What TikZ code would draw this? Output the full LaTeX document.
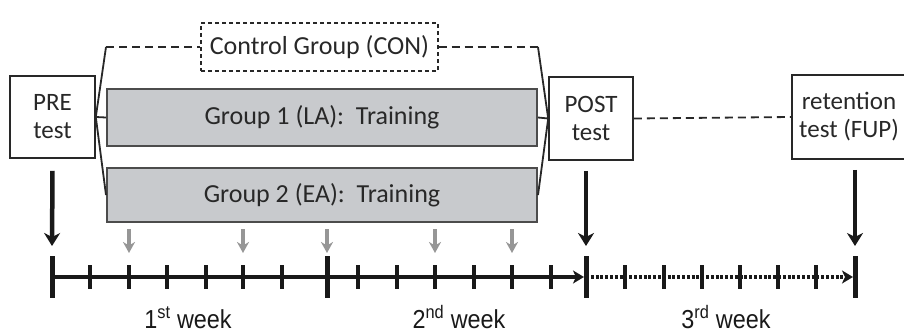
\documentclass[tikz,border=0pt]{standalone}
\usepackage{fontspec}
\setmainfont{Carlito}
\newfontfamily\weekfont[FakeStretch=0.9]{Liberation Sans}
\usetikzlibrary{arrows.meta}
\definecolor{boxgray}{RGB}{200,202,205}
\definecolor{textgray}{RGB}{40,40,40}
\definecolor{arrowgray}{RGB}{150,150,150}

\tikzset{
  testbox/.style = {draw=textgray, line width=1.6pt, align=center, inner sep=0pt,
                    text=textgray, font=\fontsize{25}{28}\selectfont},
  groupbox/.style = {draw=black!70, line width=2pt, fill=boxgray, inner sep=0pt,
                     minimum width=430pt, text=textgray, font=\fontsize{26}{30}\selectfont},
  ctrlbox/.style = {draw=textgray, line width=1.4pt, dash pattern=on 4pt off 3pt,
                    inner sep=0pt, minimum width=237pt, minimum height=48pt,
                    text=textgray, font=\fontsize{26}{30}\selectfont},
  fan/.style = {draw=textgray, line width=1.8pt},
  ctrlline/.style = {draw=textgray, line width=1.8pt, dash pattern=on 8pt off 5pt},
  testarrow/.style = {draw=black!90, line width=4.5pt,
                      -{Stealth[length=13pt, width=16pt, inset=4pt]}},
  trainarrow/.style = {draw=arrowgray, line width=3.2pt,
                       -{Stealth[length=11pt, width=12pt, inset=3.5pt]}},
  weeklabel/.style = {anchor=base, inner sep=0pt, font=\weekfont\fontsize{26}{30}\selectfont,
                      text=black!90},
}

\begin{document}
\begin{tikzpicture}[x=1pt, y=-1pt]
	\useasboundingbox (0,0) rectangle (904,332);

%test boxes
	\node[testbox, minimum width=85pt, minimum height=82pt] (pre) at (52.5,117) {PRE\\test};
	\node[testbox, minimum width=84pt, minimum height=83pt] (post) at (591,118.5) {POST\\test};
	\node[testbox, minimum width=114pt, minimum height=84pt] (ret) at (849,117) {retention\\test (FUP)};

%groups
	\node[ctrlbox] (con) at (319.5,47) {Control Group (CON)};
	\node[groupbox, minimum height=57pt] (gla) at (322,117.5) {Group 1 (LA):\ \ Training};
	\node[groupbox, minimum height=54pt] (gea) at (322,195) {Group 2 (EA):\ \ Training};

	\coordinate (cl) at (gla.west |- con.west);
	\coordinate (cr) at (gla.east |- con.east);

%fan in and out
	\draw[fan] (cl) -- (pre.east) -- (gla.west);
	\draw[fan] (pre.east) -- (gea.west);
	\draw[fan] (cr) -- (post.west) -- (gla.east);
	\draw[fan] (post.west) -- (gea.east);
	\draw[ctrlline] (cl) -- (con.west);
	\draw[ctrlline] (con.east) -- (cr);
	\draw[ctrlline] (post.east) -- (ret.west);

%time line
	\coordinate (w0) at (52,277);
	\coordinate (w1) at (327,277);
	\coordinate (w2) at (586,277);
	\coordinate (w3) at (855,277);

	\draw[line width=4pt, black!90, -{Stealth[length=11pt, width=13pt, inset=3pt]}] (w0) -- ([xshift=-2pt]w2);
	\draw[line width=4pt, black!90, dash pattern=on 3pt off 1.8pt,
	      -{Stealth[length=11pt, width=13pt, inset=3pt]}] (w2) -- ([xshift=-2pt]w3);

	\foreach \x in {90,129,167,206,243,282,358,397,435,474,512,551,625,664,702,740,778,816}
		\draw[line width=3.5pt, black!90] (\x,265) -- (\x,289);
	\foreach \w in {w0,w1,w2,w3}
		\draw[line width=5pt, black!90] ([yshift=21pt]\w) -- ([yshift=-21pt]\w);

%test arrows
	\coordinate (ps) at (post.south -| w2);
	\coordinate (rs) at (ret.south -| w3);
	\draw[testarrow] ([yshift=-12pt]pre.south) -- ([yshift=31pt]w0);
	\draw[testarrow] ([yshift=-10pt]ps) -- ([yshift=31pt]w2);
	\draw[testarrow] ([yshift=-10pt]rs) -- ([yshift=31pt]w3);

%training sessions
	\foreach \x in {129,243,327,435,512}
		\draw[trainarrow] (\x,229) -- (\x,253);

%weeks
	\node[weeklabel] (wk1) at (188,328) {1\textsuperscript{st} week};
	\node[weeklabel] (wk2) at (459,328) {2\textsuperscript{nd} week};
	\node[weeklabel] (wk3) at (726,328) {3\textsuperscript{rd} week};
\end{tikzpicture}
\end{document}
